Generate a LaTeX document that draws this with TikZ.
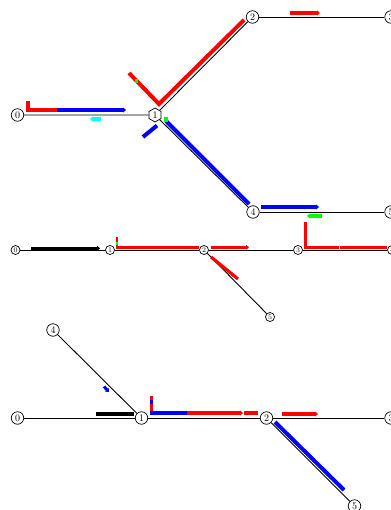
\documentclass[tikz,border=0pt]{standalone}
\usetikzlibrary{arrows.meta,shapes.geometric}
\definecolor{aqua}{RGB}{0,255,255}
\definecolor{lime}{RGB}{0,255,0}
\begin{document}
\begin{tikzpicture}[x=1pt,y=-1pt,
  vtx/.style={circle,draw,line width=0.7pt,inner sep=0pt,minimum size=12.5pt,font=\fontsize{10}{10}\selectfont},
  svtx/.style={circle,draw,line width=0.7pt,inner sep=0pt,minimum size=9pt,font=\fontsize{7}{7}\selectfont},
  hvtx/.style={regular polygon,regular polygon sides=6,shape border rotate=30,draw,line width=0.7pt,inner sep=0pt,minimum size=14pt,font=\fontsize{10}{10}\selectfont},
  edge/.style={line width=0.9pt},
  bar/.style={line width=4pt},
  sbar/.style={line width=3.2pt},
  tip/.style={-{Triangle[length=3pt,width=5pt]}},
]
\useasboundingbox (0,0) rectangle (390,510);

% ---- upper network ----
\node[vtx]  (a0) at (17.5,115) {0};
\node[hvtx] (a1) at (155,115) {1};
\node[vtx]  (a2) at (252.5,17) {2};
\node[vtx]  (a3) at (391,17) {3};
\node[vtx]  (a4) at (253,212) {4};
\node[vtx]  (a5) at (391,212) {5};
\draw[edge] (a0) -- (a1);
\draw[edge] (a1) -- (a2);
\draw[edge] (a2) -- (a3);
\draw[edge] (a1) -- (a4);
\draw[edge] (a4) -- (a5);

\draw[bar,red] (28,101) -- (28,110) -- (57,110);
\draw[bar,blue,tip] (57,110) -- (126,110);
\draw[bar,aqua,tip] (101,119) -- (90,119);
\draw[bar,red,line join=miter] (129,73) -- (159,104) -- (244,20);
\fill[lime] (134.5,79.5) rectangle (138,83);
\draw[bar,blue] (166,121) -- (249,204);
\fill[lime] (163.5,117.5) rectangle (168,122);
\draw[bar,blue] (143,137) -- (157,125.5);
\draw[bar,red,tip] (290,13) -- (320,13);
\draw[bar,blue,tip] (261,207) -- (319,207);
\draw[bar,lime,tip] (322,216) -- (307,216);

% ---- middle network ----
\node[svtx] (b0) at (15.5,250) {0};
\node[svtx] (b1) at (110,250) {1};
\node[svtx] (b2) at (204,250) {2};
\node[svtx] (b3) at (298,250) {3};
\node[svtx] (b4) at (392,250) {4};
\node[svtx] (b5) at (270,317) {5};
\draw[edge] (b0) -- (b1);
\draw[edge] (b1) -- (b2);
\draw[edge] (b2) -- (b3);
\draw[edge] (b3) -- (b4);
\draw[edge] (b2) -- (b5);

\draw[sbar,black,tip] (31,248.3) -- (100,248.3);
\draw[line width=2.5pt,red] (117,237) -- (117,246);
\fill[lime] (115.8,242) rectangle (118.2,244.5);
\draw[sbar,red] (116,247.3) -- (199,247.3);
\draw[sbar,red,tip] (211,247.3) -- (249,247.3);
\draw[sbar,red] (211,257) -- (238,279);
\draw[sbar,red] (305.5,222) -- (305.5,247.3) -- (339,247.3);
\draw[sbar,red] (340,247.3) -- (387,247.3);

% ---- lower network ----
\node[vtx] (c0) at (17.5,418) {0};
\node[vtx] (c1) at (141.5,418) {1};
\node[vtx] (c2) at (266.5,418) {2};
\node[vtx] (c3) at (391,418) {3};
\node[vtx] (c4) at (53,330) {4};
\node[vtx] (c5) at (354.5,506) {5};
\draw[edge] (c0) -- (c1);
\draw[edge] (c4) -- (c1);
\draw[edge] (c1) -- (c2);
\draw[edge] (c2) -- (c3);
\draw[edge] (c2) -- (c5);

\draw[bar,black] (96,414) -- (134,414);
\draw[line width=3pt,blue,tip] (104,386.5) -- (109,392);
\draw[line width=3pt,red] (151,396) -- (151,412);
\draw[line width=3pt,blue] (151,399.5) -- (151,403.5);
\draw[bar,blue] (150,413) -- (187,413);
\draw[bar,red,tip] (187,413) -- (243,413);
\draw[bar,red] (244,413) -- (258,413);
\draw[bar,red,tip] (282,414) -- (318,414);
\draw[bar,blue] (275,422) -- (344,490);
\end{tikzpicture}
\end{document}
